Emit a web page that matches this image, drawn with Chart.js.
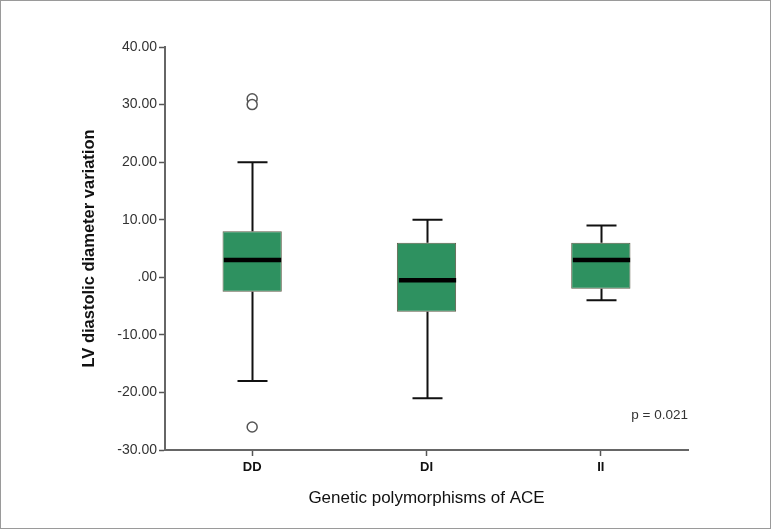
<!DOCTYPE html>
<html>
<head>
<meta charset="utf-8">
<script src="https://cdn.jsdelivr.net/npm/chart.js@4.4.1/dist/chart.umd.min.js"></script>
<style>
  html, body { margin: 0; padding: 0; background: #fff; }
  canvas { display: block; }
</style>
</head>
<body>
<canvas id="boxChart" width="771" height="529"></canvas>
<script>
// 박스플롯 값
const groups = ["DD", "DI", "II"];
const whiskerLow = [-18, -21, -4];
const q1 = [-2.5, -6, -2];
const median = [3, -0.5, 3];
const q3 = [8, 6, 6];
const whiskerHigh = [20, 10, 9];
const outlierGroups = ["DD", "DD", "DD"];
const outlierValues = [31, 30, -26];
const yMin = -30, yMax = 40, yStep = 10;
const pText = "p = 0.021";
const pAt = -24; // y 위치 (값 기준)

const fontFamily = "'Liberation Sans', Arial, sans-serif";

// 배경 + 테두리
const frame = {
  id: "frame",
  beforeDraw(chart) {
    const ctx = chart.ctx;
    ctx.save();
    ctx.fillStyle = "#fff";
    ctx.fillRect(0, 0, chart.width, chart.height);
    ctx.strokeStyle = "#9a9a9a";
    ctx.lineWidth = 1;
    ctx.strokeRect(0.5, 0.5, chart.width - 1, chart.height - 1);
    ctx.restore();
  }
};

// 수염 + 중앙값 선
const whiskers = {
  id: "whiskers",
  afterDatasetsDraw(chart) {
    const ctx = chart.ctx;
    const x = chart.scales.x, y = chart.scales.y;
    const bars = chart.getDatasetMeta(0).data;
    ctx.save();
    groups.forEach((g, i) => {
      const cx = Math.round(x.getPixelForValue(i)) + 0.5;
      const half = bars[i].width / 2;
      const cap = 15;
      ctx.strokeStyle = "#111";
      ctx.lineWidth = 2;
      ctx.beginPath();
      ctx.moveTo(cx, y.getPixelForValue(q3[i]));
      ctx.lineTo(cx, y.getPixelForValue(whiskerHigh[i]));
      ctx.moveTo(cx, y.getPixelForValue(q1[i]));
      ctx.lineTo(cx, y.getPixelForValue(whiskerLow[i]));
      ctx.moveTo(cx - cap, y.getPixelForValue(whiskerHigh[i]));
      ctx.lineTo(cx + cap, y.getPixelForValue(whiskerHigh[i]));
      ctx.moveTo(cx - cap, y.getPixelForValue(whiskerLow[i]));
      ctx.lineTo(cx + cap, y.getPixelForValue(whiskerLow[i]));
      ctx.stroke();
      ctx.lineWidth = 4.5;
      ctx.strokeStyle = "#000";
      ctx.beginPath();
      ctx.moveTo(cx - half + 1, y.getPixelForValue(median[i]));
      ctx.lineTo(cx + half - 1, y.getPixelForValue(median[i]));
      ctx.stroke();
    });
    // p 값
    ctx.fillStyle = "#333";
    ctx.font = "13.5px " + fontFamily;
    ctx.textAlign = "right";
    ctx.textBaseline = "middle";
    ctx.fillText(pText, chart.chartArea.right, y.getPixelForValue(pAt));
    ctx.restore();
  }
};

new Chart(document.getElementById("boxChart"), {
  type: "bar",
  data: {
    labels: groups,
    datasets: [
      {
        label: "box",
        data: groups.map((g, i) => [q1[i], q3[i]]),
        backgroundColor: "#2e9160", // 상자: 그린
        borderColor: "#5d5d48",
        borderWidth: 1,
        borderSkipped: false,
        barPercentage: 0.34,
        categoryPercentage: 1
      },
      {
        type: "scatter",
        label: "outliers",
        data: outlierGroups.map((g, i) => ({ x: g, y: outlierValues[i] })),
        pointRadius: 5,
        pointBackgroundColor: "#fff",
        pointBorderColor: "#555",
        pointBorderWidth: 1.5
      }
    ]
  },
  options: {
    responsive: false,
    animation: false,
    layout: { padding: { left: 80, right: 83, top: 47, bottom: 20 } },
    plugins: {
      legend: { display: false },
      tooltip: { enabled: false }
    },
    scales: {
      x: {
        type: "category",
        offset: true,
        grid: { offset: false, drawOnChartArea: false, drawTicks: true, tickLength: 6, tickColor: "#555", tickWidth: 1.5 },
        border: { color: "#666", width: 2 },
        ticks: { color: "#111", font: { family: fontFamily, size: 13, weight: "bold" }, padding: 4 },
        title: {
          display: true,
          text: "Genetic polymorphisms of ACE",
          color: "#111",
          font: { family: fontFamily, size: 17 },
          padding: { top: 0, bottom: 0 }
        },
        afterFit(scale) { scale.height = 59; }
      },
      y: {
        min: yMin,
        max: yMax,
        grid: { drawOnChartArea: false, drawTicks: true, tickLength: 6, tickColor: "#555", tickWidth: 1.5 },
        border: { color: "#666", width: 2 },
        ticks: {
          stepSize: yStep,
          color: "#333",
          padding: 2,
          font: { family: fontFamily, size: 14 },
          callback: (v) => (v === 0 ? ".00" : v.toFixed(2))
        },
        title: {
          display: true,
          text: "LV diastolic diameter variation",
          color: "#111",
          font: { family: fontFamily, size: 16.5, weight: "bold" },
          padding: { top: 0, bottom: 0 }
        },
        afterFit(scale) { scale.width = 85; }
      }
    }
  },
  plugins: [frame, whiskers]
});
</script>
</body>
</html>
